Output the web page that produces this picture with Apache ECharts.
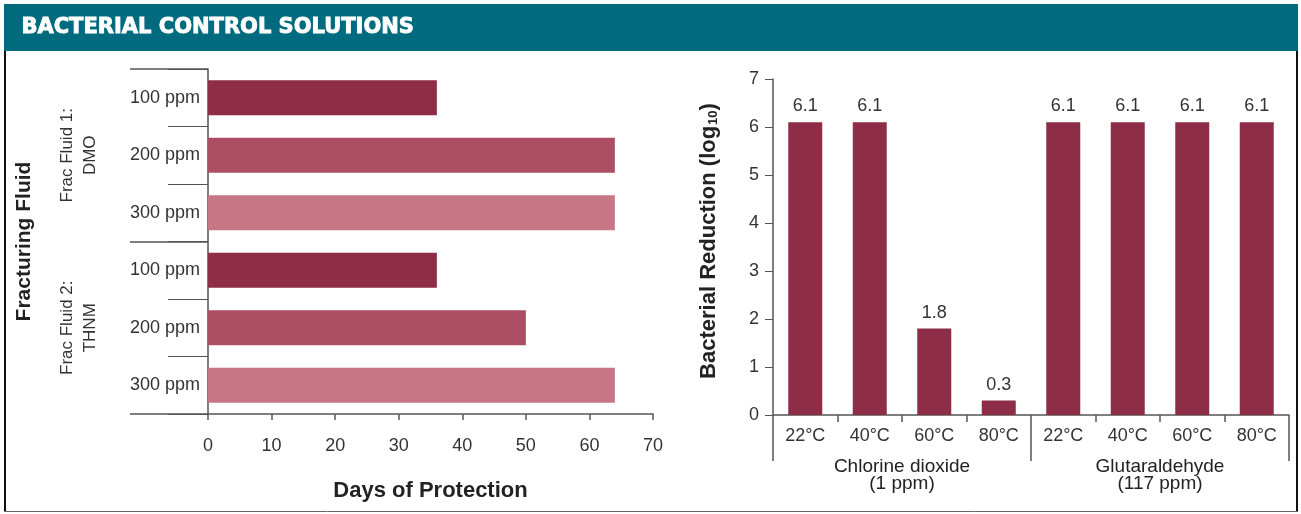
<!DOCTYPE html>
<html>
<head>
<meta charset="utf-8">
<title>Bacterial Control Solutions</title>
<script src="https://cdn.jsdelivr.net/npm/echarts@6/dist/echarts.min.js"></script>
<style>
  html, body { margin: 0; padding: 0; background: #ffffff; }
  #chart { width: 1301px; height: 514px; }
</style>
</head>
<body>
<div id="chart"></div>
<script>
// ---- Data ----
const titleText = 'BACTERIAL CONTROL SOLUTIONS';

// Left panel: days of protection per fracturing fluid and dose
const fluidGroups = ['Frac Fluid 1:\nDMO', 'Frac Fluid 2:\nTHNM'];
const doseLabels = ['100 ppm', '200 ppm', '300 ppm', '100 ppm', '200 ppm', '300 ppm'];
const daysOfProtection = [36, 64, 64, 36, 50, 64];
const daysTicks = { min: 0, max: 70, interval: 10 };

// Right panel: bacterial reduction (log10) per biocide and temperature
const biocideGroups = ['Chlorine dioxide\n(1 ppm)', 'Glutaraldehyde\n(117 ppm)'];
const temperatureLabels = ['22°C', '40°C', '60°C', '80°C', '22°C', '40°C', '60°C', '80°C'];
const logReduction = [6.1, 6.1, 1.8, 0.3, 6.1, 6.1, 6.1, 6.1];
const reductionTicks = { min: 0, max: 7, interval: 1 };

// ---- Styling ----
const doseColors = ['#8e2d48', '#ac4f65', '#c67685'];
const barColor = '#8e2d48';
const axisColor = '#555555';
const textColor = '#333333';
const font = '"Liberation Sans", Arial, Helvetica, sans-serif';

const chart = echarts.init(document.getElementById('chart'), null, { renderer: 'canvas' });

const option = {
  backgroundColor: '#ffffff',
  animation: false,
  textStyle: { fontFamily: font, color: textColor },
  graphic: [
    // header band
    { type: 'rect', left: 4, top: 4, shape: { width: 1294, height: 47 }, style: { fill: '#006b7f' } },
    {
      type: 'text', left: 21, top: 17,
      style: { text: titleText, fill: '#ffffff', stroke: '#ffffff', lineWidth: 0.9, font: 'bold 21px "DejaVu Sans", sans-serif' }
    },
    // panel frame
    { type: 'line', shape: { x1: 5, y1: 51, x2: 5, y2: 512 }, style: { stroke: '#111111', lineWidth: 2 } },
    { type: 'line', shape: { x1: 1297, y1: 51, x2: 1297, y2: 512 }, style: { stroke: '#111111', lineWidth: 2 } },
    { type: 'line', shape: { x1: 4, y1: 511.5, x2: 1298, y2: 511.5 }, style: { stroke: '#666666', lineWidth: 1 } }
  ],
  grid: [
    { left: 208, top: 69, width: 445, height: 345 },
    { left: 773, top: 79, width: 516, height: 336 }
  ],
  xAxis: [
    {
      gridIndex: 0, type: 'value',
      min: daysTicks.min, max: daysTicks.max, interval: daysTicks.interval,
      name: 'Days of Protection', nameLocation: 'middle', nameGap: 66,
      nameTextStyle: { fontSize: 22, fontWeight: 'bold', color: '#222222', fontFamily: font },
      axisLine: { show: true, lineStyle: { color: axisColor, width: 1.5 } },
      axisTick: { show: true, length: 6, lineStyle: { color: axisColor, width: 1.5 } },
      axisLabel: { fontSize: 18, color: textColor, margin: 23 },
      splitLine: { show: false }
    },
    {
      gridIndex: 1, type: 'category', data: temperatureLabels,
      axisLine: { show: true, lineStyle: { color: axisColor, width: 1.5 } },
      axisTick: { show: true, length: 7, lineStyle: { color: axisColor, width: 1.5 } },
      axisLabel: { fontSize: 18, color: textColor, margin: 12 }
    },
    {
      gridIndex: 1, type: 'category', data: biocideGroups, position: 'bottom',
      axisLine: { show: false },
      axisTick: { show: true, length: 46, lineStyle: { color: axisColor, width: 1.5 } },
      axisLabel: { fontSize: 19, color: '#222222', margin: 43, lineHeight: 17 }
    }
  ],
  yAxis: [
    {
      gridIndex: 0, type: 'category', data: doseLabels, inverse: true,
      axisLine: { show: true, lineStyle: { color: axisColor, width: 1.5 } },
      axisTick: { show: true, length: 40, lineStyle: { color: axisColor, width: 1 } },
      axisLabel: { fontSize: 18, color: textColor, margin: 8 }
    },
    {
      gridIndex: 0, type: 'category', data: fluidGroups, inverse: true, position: 'left',
      axisLine: { show: false },
      axisTick: { show: true, length: 78, lineStyle: { color: axisColor, width: 1.5 } },
      axisLabel: { fontSize: 17, color: textColor, margin: 106, rotate: 90, lineHeight: 23 },
      name: 'Fracturing Fluid', nameLocation: 'middle', nameGap: 173, nameRotate: 90,
      nameTextStyle: { fontSize: 21, fontWeight: 'bold', color: '#222222', fontFamily: font }
    },
    {
      gridIndex: 1, type: 'value',
      min: reductionTicks.min, max: reductionTicks.max, interval: reductionTicks.interval,
      name: 'Bacterial Reduction (log{sub|10})', nameLocation: 'middle', nameGap: 53, nameRotate: 90,
      nameTextStyle: {
        fontSize: 22, fontWeight: 'bold', color: '#222222', fontFamily: font, padding: [0, 0, 0, 12],
        rich: { sub: { fontSize: 13, fontWeight: 'bold', verticalAlign: 'bottom', padding: [9, 0, 0, 1], color: '#222222', fontFamily: font } }
      },
      axisLine: { show: true, lineStyle: { color: axisColor, width: 1.5 } },
      axisTick: { show: true, length: 8, lineStyle: { color: axisColor, width: 1 } },
      axisLabel: { fontSize: 18, color: textColor, margin: 14 },
      splitLine: { show: false }
    }
  ],
  series: [
    {
      type: 'bar', xAxisIndex: 0, yAxisIndex: 0, barWidth: 35,
      data: daysOfProtection.map((v, i) => ({ value: v, itemStyle: { color: doseColors[i % doseColors.length] } }))
    },
    {
      type: 'bar', xAxisIndex: 1, yAxisIndex: 2, barWidth: 34,
      itemStyle: { color: barColor },
      label: {
        show: true, position: 'top', distance: 7, fontSize: 18, color: textColor,
        formatter: (p) => p.value.toFixed(1)
      },
      data: logReduction
    }
  ]
};

chart.setOption(option);
</script>
</body>
</html>
